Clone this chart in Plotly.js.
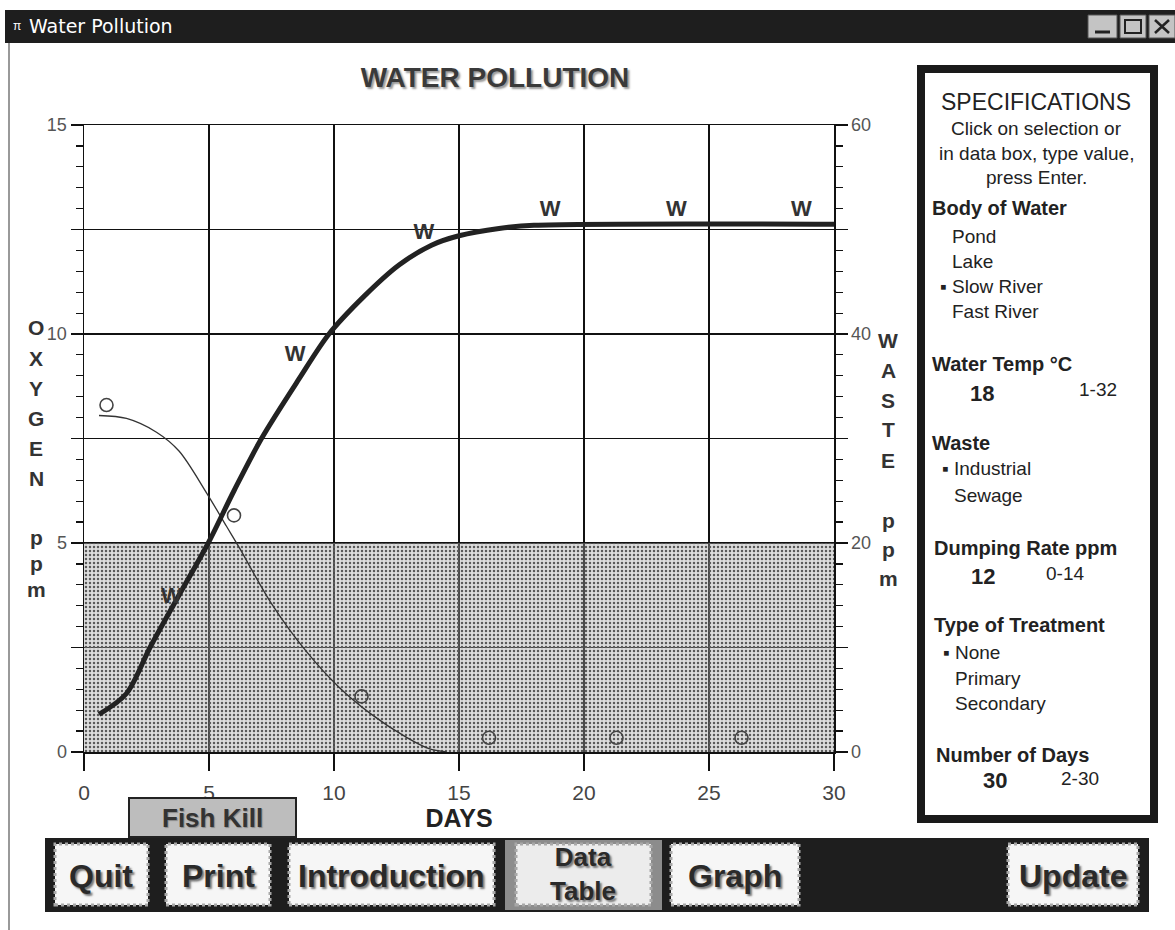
<!DOCTYPE html>
<html><head><meta charset="utf-8">
<script src="https://cdn.plot.ly/plotly-3.0.1.min.js"></script>
<style>html,body{margin:0;padding:0;background:#fff;overflow:hidden}#chart{width:1175px;height:930px}</style>
</head><body><div id="chart"></div>
<script>
// ---------- data ----------
const oxygenDays = [0.6, 1.7, 2.9, 3.8, 4.9, 5.7, 6.2, 7.5, 8.9, 10.2, 11.5, 12.9, 13.8, 14.5];
const oxygenPpm  = [8.05, 7.98, 7.65, 7.2, 6.2, 5.4, 4.9, 3.55, 2.4, 1.55, 0.9, 0.35, 0.08, 0];
const oxygenMarkerDays = [0.9, 6.0, 11.1, 16.2, 21.3, 26.3];
const oxygenMarkerPpm  = [8.3, 5.66, 1.33, 0.34, 0.34, 0.34];
const wasteDays = [0.6, 1.7, 2.64, 3.8, 4.97, 6.0, 7.1, 8.6, 9.8, 11.2, 12.6, 13.9, 15, 16.6, 18, 30];
const wastePpm  = [3.6, 5.6, 10, 15.0, 20, 25, 30, 35.7, 40, 43.6, 46.6, 48.5, 49.4, 50.1, 50.4, 50.5];
const wasteMarkerDays = [3.5, 8.45, 13.6, 18.65, 23.7, 28.7];
const wasteMarkerPpm  = [14.8, 37.9, 49.6, 51.8, 51.8, 51.8];
const fishKillOxygen = 5;
const dayRange = [0, 30];
const oxygenRange = [0, 15];
const wasteRange = [0, 60];
const dayTicks = [0, 5, 10, 15, 20, 25, 30];
const oxygenTicks = [0, 2.5, 5, 7.5, 10, 12.5, 15];
const oxygenTickText = ['0', '', '5', '', '10', '', '15'];
const wasteTicks = [0, 10, 20, 30, 40, 50, 60];
const wasteTickText = ['0', '', '20', '', '40', '', '60'];

// ---------- page geometry helpers (pixel -> paper) ----------
const PL = 84, PR = 834, PT = 125, PB = 752;
const fx = p => (p - PL) / (PR - PL);
const fy = p => (PB - p) / (PB - PT);
const SANS = 'Liberation Sans, Arial, sans-serif';
const NARROW = 'Liberation Sans Narrow, Arial Narrow, Liberation Sans, sans-serif';

function rect(x0, y0, x1, y1, fill, line, lw, dash) {
  return {type: 'rect', xref: 'paper', yref: 'paper', x0: fx(x0), x1: fx(x1), y0: fy(y1), y1: fy(y0),
    fillcolor: fill, line: {color: line || 'rgba(0,0,0,0)', width: lw || 0, dash: dash || 'solid'}};
}
function seg(x0, y0, x1, y1, color, w) {
  return {type: 'line', xref: 'paper', yref: 'paper', x0: fx(x0), x1: fx(x1), y0: fy(y0), y1: fy(y1),
    line: {color: color, width: w}};
}
function txt(text, x, y, size, o) {
  o = o || {};
  return {text: text, xref: 'paper', yref: 'paper', x: fx(x), y: fy(y), showarrow: false,
    xanchor: o.anchor || 'left', yanchor: 'middle', align: o.align || 'left',
    font: {family: o.family || SANS, size: size, color: o.color || '#222', weight: o.weight || 'normal',
      shadow: o.shadow || 'none'}};
}

// ---------- traces ----------
const traces = [
  {x: [dayRange[0], dayRange[1], dayRange[1], dayRange[0], dayRange[0]],
   y: [0, 0, fishKillOxygen, fishKillOxygen, 0], type: 'scatter', mode: 'lines', fill: 'toself',
   line: {width: 0}, fillcolor: 'rgba(150,150,150,0.45)',
   fillpattern: {shape: '.', bgcolor: 'rgba(165,165,165,0.38)', fgcolor: '#5a5a5a', size: 4, solidity: 0.3},
   hoverinfo: 'skip', showlegend: false, name: 'Fish Kill'},
  {x: oxygenDays, y: oxygenPpm, type: 'scatter', mode: 'lines', line: {color: '#333', width: 1.3, shape: 'spline', smoothing: 0.9},
   showlegend: false, name: 'Oxygen'},
  {x: oxygenMarkerDays, y: oxygenMarkerPpm, type: 'scatter', mode: 'markers',
   marker: {symbol: 'circle-open', size: 13, color: '#444', line: {width: 1.6, color: '#444'}}, showlegend: false},
  {x: wasteDays, y: wastePpm, type: 'scatter', mode: 'lines', yaxis: 'y2',
   line: {color: '#222', width: 5, shape: 'spline', smoothing: 0.9}, showlegend: false, name: 'Waste'},
  {x: wasteMarkerDays, y: wasteMarkerPpm, type: 'scatter', mode: 'text', yaxis: 'y2',
   text: wasteMarkerDays.map(() => 'W'), textposition: 'middle center',
   textfont: {family: SANS, size: 22, color: '#333', weight: 'bold'}, showlegend: false}
];

// ---------- decorations ----------
const shapes = [
  // window title bar
  rect(5, 10, 1175, 43, '#1e1e1e'),
  rect(1088, 15, 1117, 38, '#c4c4c4', '#555', 1),
  rect(1120, 15, 1146, 38, '#c4c4c4', '#555', 1),
  rect(1149, 15, 1175, 38, '#c4c4c4', '#555', 1),
  seg(1095, 32, 1110, 32, '#222', 3),
  rect(1125, 20, 1141, 33, 'rgba(0,0,0,0)', '#222', 2),
  seg(1155, 20, 1169, 33, '#222', 2.5),
  seg(1155, 33, 1169, 20, '#222', 2.5),
  // left window border
  seg(9, 43, 9, 930, '#999', 2),
  // specifications panel
  rect(921, 69, 1154, 819, 'rgba(0,0,0,0)', '#1a1a1a', 8),
  // fish kill key
  rect(129, 798, 296, 837, '#bdbdbd', '#222', 2),
  // bottom button bar
  rect(45, 838, 1149, 912, '#1e1e1e'),
  rect(505, 840, 662, 910, '#8c8c8c'),
  rect(55, 844, 148, 905, '#f6f6f6', '#a8a8a8', 3, 'dot'),
  rect(166, 844, 270, 905, '#f6f6f6', '#a8a8a8', 3, 'dot'),
  rect(289, 844, 494, 905, '#f6f6f6', '#a8a8a8', 3, 'dot'),
  rect(516, 844, 651, 905, '#ececec', '#a8a8a8', 3, 'dot'),
  rect(671, 844, 799, 905, '#f6f6f6', '#a8a8a8', 3, 'dot'),
  rect(1008, 844, 1138, 905, '#f6f6f6', '#a8a8a8', 3, 'dot')
];

const btnFont = {family: SANS, weight: 'bold', color: '#2a2a2a', shadow: '2px 2px 2px #777'};
function btn(label, x, y, size) {
  const a = txt(label, x, y, size, {anchor: 'center', align: 'center'});
  a.font = Object.assign({size: size}, btnFont);
  return a;
}
const annotations = [
  txt('π', 11, 26, 12, {color: '#fff'}),
  txt('Water Pollution', 27, 26, 19, {family: 'DejaVu Sans, sans-serif', color: '#fff'}),
  // specifications
  txt('SPECIFICATIONS', 1036, 102, 23, {anchor: 'center'}),
  txt('Click on selection or', 1036, 128, 19, {anchor: 'center'}),
  txt('in data box, type value,', 1036, 153, 19, {anchor: 'center'}),
  txt('press Enter.', 1036, 178, 19, {anchor: 'center'}),
  txt('Body of Water', 930, 208, 20, {weight: 'bold'}),
  txt('Pond', 950, 236, 19),
  txt('Lake', 950, 261, 19),
  txt('▪ Slow River', 938, 286, 19),
  txt('Fast River', 950, 311, 19),
  txt('Water Temp °C', 930, 364, 20, {weight: 'bold'}),
  txt('18', 982, 393, 22, {anchor: 'center', weight: 'bold'}),
  txt('1-32', 1098, 389, 19, {anchor: 'center'}),
  txt('Waste', 930, 443, 20, {weight: 'bold'}),
  txt('▪ Industrial', 940, 468, 19),
  txt('Sewage', 952, 495, 19),
  txt('Dumping Rate ppm', 932, 548, 20, {weight: 'bold'}),
  txt('12', 983, 576, 22, {anchor: 'center', weight: 'bold'}),
  txt('0-14', 1065, 573, 19, {anchor: 'center'}),
  txt('Type of Treatment', 932, 625, 20, {weight: 'bold'}),
  txt('▪ None', 941, 652, 19),
  txt('Primary', 953, 678, 19),
  txt('Secondary', 953, 703, 19),
  txt('Number of Days', 934, 755, 20, {weight: 'bold'}),
  txt('30', 995, 780, 22, {anchor: 'center', weight: 'bold'}),
  txt('2-30', 1080, 779, 19, {anchor: 'center'}),
  // fish kill key
  txt('Fish Kill', 212, 818, 26, {anchor: 'center', weight: 'bold', color: '#333', shadow: '1px 1px 1px #888'}),
  // buttons
  btn('Quit', 101, 876, 32),
  btn('Print', 218, 876, 32),
  btn('Introduction', 391, 876, 32),
  btn('Data<br>Table', 583, 874, 26),
  btn('Graph', 735, 876, 32),
  btn('Update', 1073, 876, 32)
];

// stacked axis letters
const leftWord = 'OXYGEN', leftWordY = [327, 358, 388, 418, 448, 478];
const leftUnit = 'ppm', leftUnitY = [537, 563, 589];
const rightWord = 'WASTE', rightWordY = [340, 370, 400, 430, 460];
const rightUnit = 'ppm', rightUnitY = [520, 549, 578];
const letterStyle = {anchor: 'center', weight: 'bold', color: '#333'};
leftWord.split('').forEach((c, i) => annotations.push(txt(c, 36, leftWordY[i], 21, letterStyle)));
leftUnit.split('').forEach((c, i) => annotations.push(txt(c, 36, leftUnitY[i], 21, letterStyle)));
rightWord.split('').forEach((c, i) => annotations.push(txt(c, 888, rightWordY[i], 21, letterStyle)));
rightUnit.split('').forEach((c, i) => annotations.push(txt(c, 888, rightUnitY[i], 21, letterStyle)));

const axisCommon = {showline: true, linecolor: '#111', linewidth: 1.5, ticks: 'outside', tickcolor: '#111',
  tickwidth: 1.2, zeroline: false, fixedrange: true};

const layout = {
  width: 1175, height: 930,
  margin: {l: PL, r: 1175 - PR, t: PT, b: 930 - PB, pad: 0},
  paper_bgcolor: '#fff', plot_bgcolor: '#fff',
  showlegend: false,
  title: {text: 'WATER POLLUTION', x: 495 / 1175, xanchor: 'center', y: 1 - 77 / 930, yanchor: 'middle',
    font: {family: SANS, size: 28, weight: 'bold', color: '#3a3a3a', shadow: '2px 2px 2px #999'}},
  xaxis: Object.assign({}, axisCommon, {
    range: dayRange, tickmode: 'array', tickvals: dayTicks, ticklen: 17, mirror: true,
    showgrid: true, gridcolor: '#111', gridwidth: 1.2, ticklabelstandoff: 4,
    tickfont: {family: NARROW, size: 21, color: '#444'},
    title: {text: 'DAYS', standoff: 4, font: {family: NARROW, size: 25, weight: 'bold', color: '#222'}}
  }),
  yaxis: Object.assign({}, axisCommon, {
    range: oxygenRange, tickmode: 'array', tickvals: oxygenTicks, ticktext: oxygenTickText, ticklen: 12,
    showgrid: true, gridcolor: '#111', gridwidth: 1.2,
    tickfont: {family: SANS, size: 18, color: '#555'},
    minor: {tickmode: 'linear', tick0: 0, dtick: 0.5, ticks: 'outside', ticklen: 7, tickcolor: '#111', tickwidth: 1.2, showgrid: false}
  }),
  yaxis2: Object.assign({}, axisCommon, {
    range: wasteRange, overlaying: 'y', side: 'right', tickmode: 'array', tickvals: wasteTicks, ticktext: wasteTickText,
    ticklen: 12, showgrid: false,
    tickfont: {family: SANS, size: 18, color: '#555'},
    minor: {tickmode: 'linear', tick0: 0, dtick: 2, ticks: 'outside', ticklen: 7, tickcolor: '#111', tickwidth: 1.2, showgrid: false}
  }),
  shapes: shapes,
  annotations: annotations
};

Plotly.newPlot('chart', traces, layout, {staticPlot: true, displayModeBar: false});
</script>
</body></html>
